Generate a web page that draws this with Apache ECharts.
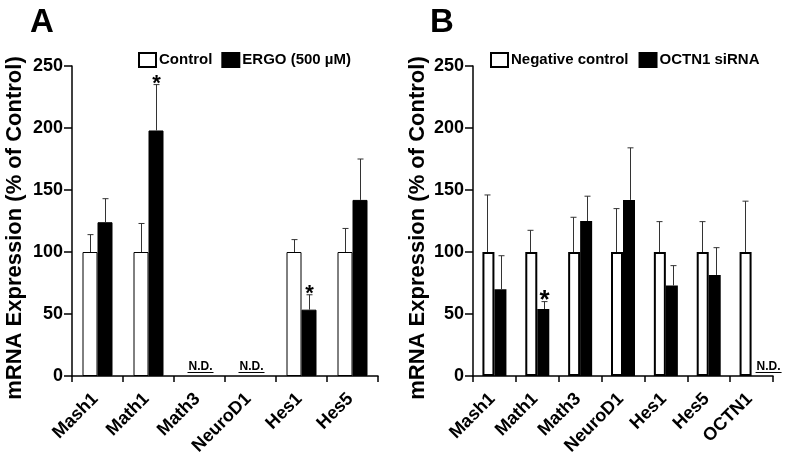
<!DOCTYPE html>
<html>
<head>
<meta charset="utf-8">
<script src="https://cdn.jsdelivr.net/npm/echarts@6/dist/echarts.min.js"></script>
<style>html,body{margin:0;padding:0;background:#fff;}#c{width:787px;height:462px;}</style>
</head>
<body>
<div id="c"></div>
<script>
// ---- Panel A data ----
const catA = ['Mash1', 'Math1', 'Math3', 'NeuroD1', 'Hes1', 'Hes5'];
const ctrlA = [100, 100, null, null, 100, 100];
const ctrlAErr = [14, 23, null, null, 10, 19];
const ergoA = [124, 198, null, null, 53.5, 142];
const ergoAErr = [19, 37, null, null, 12, 33];
const sigA = [false, true, false, false, true, false];
const ndA = [false, false, true, true, false, false];

// ---- Panel B data ----
const catB = ['Mash1', 'Math1', 'Math3', 'NeuroD1', 'Hes1', 'Hes5', 'OCTN1'];
const ctrlB = [100, 100, 100, 100, 100, 100, 100];
const ctrlBErr = [46, 17.5, 28, 35, 24.5, 24.5, 41];
const sirnaB = [70, 54, 125, 142, 73, 81.5, null];
const sirnaBErr = [27, 6, 20, 42, 16, 22, null];
const sigB = [false, true, false, false, false, false, false];
const ndB = [false, false, false, false, false, false, true];

const yTicks = [0, 50, 100, 150, 200, 250];
const yTitle = 'mRNA Expression (% of Control)';

const FONT = 'Liberation Sans, Arial, sans-serif';

function errSeries(axisIdx, vals, errs, sig, nd, offset, ndOffset, starSize) {
  return {
    type: 'custom',
    xAxisIndex: axisIdx, yAxisIndex: axisIdx,
    z: 5,
    silent: true,
    data: vals.map((v, i) => [i, v == null ? 0 : v]),
    renderItem: function (params, api) {
      const i = params.dataIndex;
      const v = vals[i];
      const children = [];
      if (v == null) {
        if (nd && nd[i]) {
          const p = api.coord([i, 0]);
          const x = p[0] + ndOffset;
          children.push({
            type: 'text',
            style: { text: 'N.D.', x: x, y: p[1] - 3, align: 'center', verticalAlign: 'bottom',
              fontSize: 12, fontWeight: 'bold', fontFamily: FONT, fill: '#000' }
          });
          children.push({
            type: 'line',
            shape: { x1: x - 13, y1: p[1] - 3.5, x2: x + 13, y2: p[1] - 3.5 },
            style: { stroke: '#000', lineWidth: 1 }
          });
        }
        return { type: 'group', children: children };
      }
      const p0 = api.coord([i, v]);
      const p1 = api.coord([i, v + errs[i]]);
      const x = Math.round(p0[0] + offset) + 0.5;
      children.push({ type: 'line', shape: { x1: x, y1: p0[1], x2: x, y2: p1[1] },
        style: { stroke: '#333', lineWidth: 1 } });
      children.push({ type: 'line', shape: { x1: x - 3, y1: p1[1], x2: x + 3, y2: p1[1] },
        style: { stroke: '#333', lineWidth: 1 } });
      if (sig[i]) {
        children.push({
          type: 'text',
          style: { text: '*', x: x, y: p1[1] - 1, align: 'center', verticalAlign: 'middle',
            fontSize: starSize, fontWeight: 'bold', fontFamily: FONT, fill: '#000' }
        });
      }
      return { type: 'group', children: children };
    }
  };
}

function yAxis(idx) {
  return {
    type: 'value', gridIndex: idx, min: 0, max: 250, interval: 50,
    axisLine: { show: true, lineStyle: { color: '#000', width: 1.5 } },
    axisTick: { show: true, length: 8, lineStyle: { color: '#000', width: 1.5 } },
    axisLabel: { fontSize: 18, fontWeight: 'bold', fontFamily: FONT, color: '#000', margin: 9,
      formatter: v => yTicks.includes(v) ? String(v) : '' },
    splitLine: { show: false }
  };
}
function xAxis(idx, cats) {
  return {
    type: 'category', gridIndex: idx, data: cats,
    axisLine: { lineStyle: { color: '#000', width: 1.5 } },
    axisTick: { show: true, length: 6, lineStyle: { color: '#000', width: 1.5 } },
    axisLabel: { interval: 0, rotate: 45, fontSize: 18, fontWeight: 'bold', fontFamily: FONT, color: '#000',
      margin: 18, padding: [0, 3, 0, 0] }
  };
}
function titleText(cx, cy) {
  return {
    type: 'text', x: cx, y: cy, rotation: Math.PI / 2,
    style: { text: yTitle, align: 'center', verticalAlign: 'middle', fontSize: 22, fontWeight: 'bold',
      fontFamily: FONT, fill: '#000' }
  };
}

const chart = echarts.init(document.getElementById('c'), null, { renderer: 'canvas' });
chart.setOption({
  animation: false,
  backgroundColor: '#fff',
  title: [
    { text: 'A', left: 25, top: 1, textStyle: { fontSize: 33, fontWeight: 'bold', fontFamily: FONT, color: '#000' } },
    { text: 'B', left: 425, top: 1, textStyle: { fontSize: 33, fontWeight: 'bold', fontFamily: FONT, color: '#000' } }
  ],
  graphic: [titleText(15, 228), titleText(418, 228)],
  legend: [
    { data: ['Control', 'ERGO (500 µM)'], left: 133, top: 47, itemWidth: 17, itemHeight: 14, itemGap: 9,
      icon: 'rect', textStyle: { fontSize: 15, fontWeight: 'bold', fontFamily: FONT, color: '#000', padding: [0, 0, 0, -2] },
      itemStyle: { borderColor: '#000', borderWidth: 2 } },
    { data: ['Negative control', 'OCTN1 siRNA'], left: 485, top: 47, itemWidth: 17, itemHeight: 14, itemGap: 10,
      icon: 'rect', textStyle: { fontSize: 15, fontWeight: 'bold', fontFamily: FONT, color: '#000', padding: [0, 0, 0, -2] },
      itemStyle: { borderColor: '#000', borderWidth: 2 } }
  ],
  grid: [
    { left: 72, right: 409, top: 66, bottom: 86 },
    { left: 473, right: 14, top: 66, bottom: 86 }
  ],
  xAxis: [xAxis(0, catA), xAxis(1, catB)],
  yAxis: [yAxis(0), yAxis(1)],
  series: [
    { name: 'Control', type: 'bar', xAxisIndex: 0, yAxisIndex: 0, data: ctrlA, barWidth: 15, barGap: '0%',
      itemStyle: { color: '#fff', borderColor: '#000', borderWidth: 1 } },
    { name: 'ERGO (500 µM)', type: 'bar', xAxisIndex: 0, yAxisIndex: 0, data: ergoA, barWidth: 15, barGap: '0%',
      itemStyle: { color: '#000', borderColor: '#000', borderWidth: 1 } },
    { name: 'Negative control', type: 'bar', xAxisIndex: 1, yAxisIndex: 1, data: ctrlB, barWidth: 12, barGap: '0%',
      itemStyle: { color: '#fff', borderColor: '#000', borderWidth: 2 } },
    { name: 'OCTN1 siRNA', type: 'bar', xAxisIndex: 1, yAxisIndex: 1, data: sirnaB, barWidth: 12, barGap: '0%',
      itemStyle: { color: '#000', borderColor: '#000', borderWidth: 2 } },
    errSeries(0, ctrlA, ctrlAErr, [false, false, false, false, false, false], ndA, -7.5, 1, 22),
    errSeries(0, ergoA, ergoAErr, sigA, null, 7.5, 0, 22),
    errSeries(1, ctrlB, ctrlBErr, [false, false, false, false, false, false, false], null, -7, 0, 24),
    errSeries(1, sirnaB, sirnaBErr, sigB, ndB, 7, 17, 26)
  ]
});
</script>
</body>
</html>
